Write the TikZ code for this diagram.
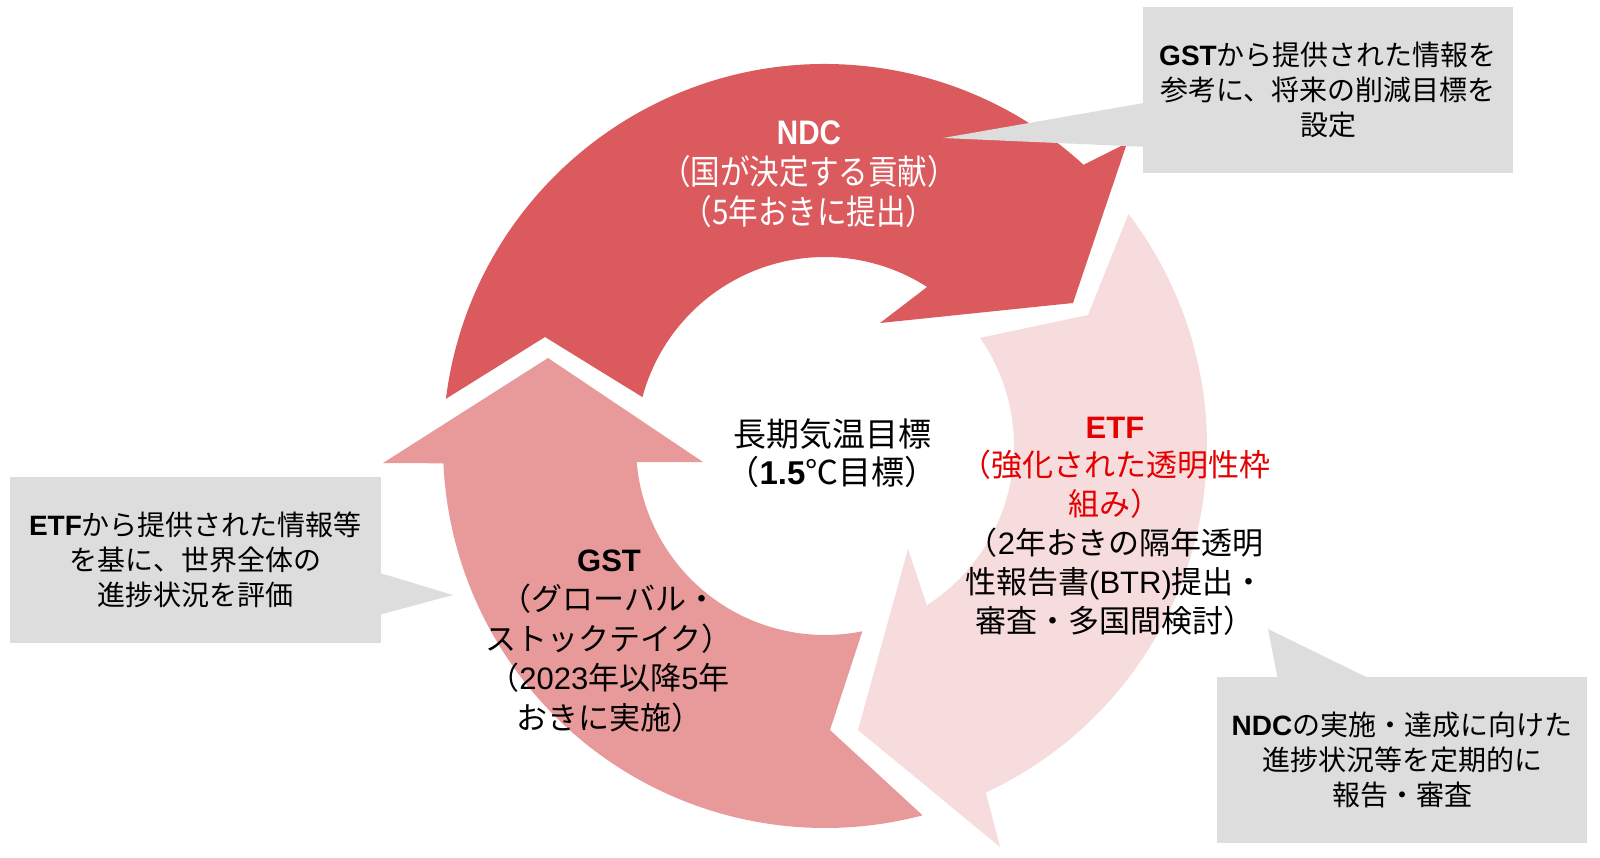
\documentclass[tikz,border=0pt]{standalone}
\usepackage{fontspec}
\setmainfont{Noto Sans CJK JP}
\newfontfamily\lat{Liberation Sans}
\newfontfamily\ndcfont[FakeStretch=0.87]{Noto Sans CJK JP}
\newfontfamily\ndclat[FakeStretch=0.87]{Liberation Sans}
\usetikzlibrary{calc}
\definecolor{ndccol}{RGB}{219,90,94}
\definecolor{gstcol}{RGB}{232,154,155}
\definecolor{etfcol}{RGB}{247,220,221}
\definecolor{calloutgray}{RGB}{221,221,221}
\definecolor{etfred}{RGB}{228,0,0}
\tikzset{
  callout/.style={fill=calloutgray, inner sep=0pt, align=center, text=black,
    font=\fontsize{28}{35}\selectfont},
  pointer/.style={fill=calloutgray},
  ringtext/.style={inner sep=0pt, align=center, font=\fontsize{31}{39.5}\selectfont},
}
\begin{document}
\begin{tikzpicture}[x=1pt,y=-1pt]
\useasboundingbox (0,0) rectangle (1600,857);
\fill[white] (0,0) rectangle (1600,857);
\coordinate (C) at (825,446);

% NDC arrow
\fill[ndccol] ($(C)+(-172.9:382)$) arc[start angle=-172.9, end angle=-47.4, radius=382]
  -- (1127,143) -- (1073,303) -- (880,323)
  -- ($(C)+(-57.3:189)$) arc[start angle=-57.3, end angle=-165, radius=189]
  -- (545,337) -- cycle;
% GST arrow
\fill[gstcol] ($(C)+(75.2:382)$) arc[start angle=75.2, end angle=177.4, radius=382]
  -- (383,463) -- (548,358) -- (703,462)
  -- ($(C)+(175.1:189)$) arc[start angle=175.1, end angle=78.6, radius=189]
  -- (830,730) -- cycle;
% ETF arrow
\fill[etfcol] ($(C)+(-37.4:382)$) arc[start angle=-37.4, end angle=65.1, radius=382]
  -- (1000,847) -- (858,730) -- (908,549)
  -- ($(C)+(57.4:189)$) arc[start angle=57.4, end angle=-34.9, radius=189]
  -- (1088,315) -- cycle;

% ring texts
\node[ringtext, text=white, font=\ndcfont\fontsize{34}{40}\selectfont] (ndc) at (809,174)
  {{\ndclat\bfseries NDC}\\（国が決定する貢献）\\（5年おきに提出）};
\node[ringtext] (gst) at (609,641)
  {{\lat\bfseries GST}\\（グローバル・\\ストックテイク）\\（{\lat 2023}年以降{\lat 5}年\\おきに実施）};
\node[ringtext, font=\fontsize{31}{38.8}\selectfont] (etf) at (1115,526)
  {\textcolor{etfred}{\lat\bfseries ETF}\\\textcolor{etfred}{（強化された透明性枠}\\\textcolor{etfred}{組み）}\\（{\lat 2}年おきの隔年透明\\性報告書{\lat (BTR)}提出・\\審査・多国間検討）};
\node[ringtext, font=\fontsize{33}{38}\selectfont] (goal) at (832,453)
  {長期気温目標\\（{\lat\bfseries 1.5}℃目標）};

% callouts
\node[callout, minimum width=370pt, minimum height=166pt] (cb1) at (1328,90)
  {{\lat\bfseries GST}から提供された情報を\\参考に、将来の削減目標を\\設定};
\coordinate (tip1) at (943,138);
\fill[pointer] ($(cb1.north west)+(2,96)$) -- (tip1) -- ($(cb1.north west)+(2,140)$) -- cycle;

\node[callout, minimum width=370pt, minimum height=166pt] (cb2) at (1402,760)
  {{\lat\bfseries NDC}の実施・達成に向けた\\進捗状況等を定期的に\\報告・審査};
\coordinate (tip2) at (1268,629);
\fill[pointer] ($(cb2.north west)+(61,2)$) -- (tip2) -- ($(cb2.north west)+(153,2)$) -- cycle;

\node[callout, minimum width=371pt, minimum height=166pt] (cb3) at (195.5,560)
  {{\lat\bfseries ETF}から提供された情報等\\を基に、世界全体の\\進捗状況を評価};
\coordinate (tip3) at (453,595);
\fill[pointer] ($(cb3.north east)+(-2,96)$) -- (tip3) -- ($(cb3.north east)+(-2,138)$) -- cycle;
\end{tikzpicture}
\end{document}
